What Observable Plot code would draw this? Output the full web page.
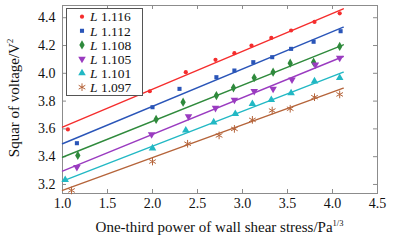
<!DOCTYPE html>
<html><head><meta charset="utf-8">
<script src="https://cdn.jsdelivr.net/npm/d3@7"></script>
<script src="https://cdn.jsdelivr.net/npm/@observablehq/plot@0.6"></script>
<style>
body{margin:0;background:#fff;}
#chart{position:relative;width:394px;height:240px;font-family:"Liberation Serif","Times New Roman",serif;color:#111;}
#chart svg.plot{position:absolute;left:0;top:0;}
.xlab{position:absolute;left:62px;width:315px;top:219px;text-align:center;font-size:15px;line-height:16px;white-space:nowrap;}
.xlab sup{font-size:8.5px;vertical-align:6px;line-height:0;}
.ylab{position:absolute;left:14px;top:98px;transform:translate(-50%,-50%) rotate(-90deg);font-size:15px;line-height:16px;white-space:nowrap;}
.ylab sup{font-size:8.5px;vertical-align:6px;line-height:0;}
#legend{position:absolute;left:66px;top:8px;}
</style></head><body><div id="chart"></div>
<script>
const xTicks = [1.0, 1.5, 2.0, 2.5, 3.0, 3.5, 4.0, 4.5];
const yTicks = [3.2, 3.4, 3.6, 3.8, 4.0, 4.2, 4.4];
const seriesNames = ["1.116", "1.112", "1.108", "1.105", "1.101", "1.097"];
const seriesColors = ["#f52d2d", "#2a55b8", "#2f8a3c", "#9a3bc0", "#22b8c4", "#b5643a"];

const x1116 = [1.06, 1.97, 2.37, 2.70, 2.91, 3.10, 3.32, 3.54, 3.80, 4.08];
const y1116 = [3.596, 3.871, 4.008, 4.097, 4.145, 4.200, 4.255, 4.308, 4.370, 4.432];
const x1112 = [1.16, 2.00, 2.30, 2.71, 2.91, 3.12, 3.33, 3.54, 3.79, 4.09];
const y1112 = [3.497, 3.756, 3.888, 3.972, 4.020, 4.080, 4.116, 4.176, 4.227, 4.303];
const x1108 = [1.17, 2.04, 2.34, 2.71, 2.90, 3.13, 3.34, 3.53, 3.79, 4.08];
const y1108 = [3.409, 3.668, 3.792, 3.840, 3.896, 3.968, 4.008, 4.073, 4.080, 4.193];
const x1105 = [1.16, 1.99, 2.40, 2.70, 2.91, 3.13, 3.34, 3.55, 3.81, 4.08];
const y1105 = [3.325, 3.560, 3.690, 3.750, 3.809, 3.871, 3.888, 3.955, 4.063, 4.111];
const x1101 = [1.03, 2.00, 2.37, 2.68, 2.92, 3.11, 3.32, 3.54, 3.80, 4.08];
const y1101 = [3.234, 3.461, 3.589, 3.648, 3.709, 3.781, 3.809, 3.857, 3.943, 3.968];
const x1097 = [1.10, 2.00, 2.39, 2.74, 2.91, 3.11, 3.33, 3.53, 3.80, 4.08];
const y1097 = [3.157, 3.365, 3.493, 3.553, 3.600, 3.665, 3.732, 3.745, 3.828, 3.848];

const fitX = [1.0, 4.12];
const fitStart = [3.612, 3.493, 3.396, 3.296, 3.224, 3.157];
const fitEnd = [4.464, 4.332, 4.205, 4.121, 4.008, 3.893];

const seriesX = [x1116, x1112, x1108, x1105, x1101, x1097];
const seriesY = [y1116, y1112, y1108, y1105, y1101, y1097];

const triangleDown = {
  draw(ctx, size) {
    const y = -Math.sqrt(size / (Math.sqrt(3) * 3));
    ctx.moveTo(0, -y * 2);
    ctx.lineTo(-Math.sqrt(3) * y, y);
    ctx.lineTo(Math.sqrt(3) * y, y);
    ctx.closePath();
  }
};
const symbols = ["circle", "square", "diamond", triangleDown, "triangle", "asterisk"];
const sizes = [2.1, 2.3, 2.8, 2.8, 2.8, 3.6];

const gray = "#8c8c8c";
const marks = [
  Plot.frame({stroke: gray}),
  Plot.tickX(xTicks, {x: d => d, insetTop: 184, stroke: gray}),
  Plot.tickX(xTicks, {x: d => d, insetBottom: 184, stroke: gray}),
  Plot.tickY(yTicks, {y: d => d, insetRight: 311, stroke: gray}),
  Plot.tickY(yTicks, {y: d => d, insetLeft: 311, stroke: gray}),
  Plot.axisX(xTicks, {tickSize: 0, tickPadding: 5, tickFormat: d3.format(".1f"), label: null}),
  Plot.axisY(yTicks, {tickSize: 0, tickPadding: 7, tickFormat: d3.format(".1f"), label: null})
];
seriesNames.forEach((name, i) => {
  const pts = seriesX[i].map((x, j) => ({x, y: seriesY[i][j]}));
  const fit = fitX.map((x, j) => ({x, y: j === 0 ? fitStart[i] : fitEnd[i]}));
  marks.push(Plot.line(fit, {x: "x", y: "y", stroke: seriesColors[i], strokeWidth: 1.4}));
  const isStroke = symbols[i] === "asterisk";
  marks.push(Plot.dot(pts, {x: "x", y: "y", symbol: symbols[i], r: sizes[i],
    fill: isStroke ? "none" : seriesColors[i], stroke: isStroke ? seriesColors[i] : "none", strokeWidth: 1}));
});

const plot = Plot.plot({
  width: 394, height: 240,
  marginLeft: 62, marginRight: 17, marginTop: 5, marginBottom: 47,
  x: {domain: [1.0, 4.5]},
  y: {domain: [3.135, 4.488]},
  style: {fontFamily: "Liberation Serif, Times New Roman, serif", fontSize: "14px", color: "#111", background: "#fff"},
  marks
});
const chart = document.getElementById("chart");
chart.appendChild(plot);

const xl = document.createElement("div");
xl.className = "xlab";
xl.innerHTML = "One-third power of wall shear stress/Pa<sup>1/3</sup>";
chart.appendChild(xl);
const yl = document.createElement("div");
yl.className = "ylab";
yl.innerHTML = "Squar of voltage/V<sup>2</sup>";
chart.appendChild(yl);

// legend
const lw = 76, lh = 87, rowH = 14.1;
const leg = d3.select(chart).append("svg").attr("id", "legend").attr("width", lw + 2).attr("height", lh + 2);
leg.append("rect").attr("x", 0.5).attr("y", 0.5).attr("width", lw).attr("height", lh)
  .attr("fill", "#fff").attr("stroke", "#555");
const d3sym = {circle: d3.symbolCircle, square: d3.symbolSquare, diamond: d3.symbolDiamond, triangle: d3.symbolTriangle, asterisk: d3.symbolAsterisk};
seriesNames.forEach((name, i) => {
  const cy = 8.7 + i * rowH;
  const s = symbols[i];
  const type = typeof s === "string" ? d3sym[s] : s;
  const isStroke = s === "asterisk";
  leg.append("path").attr("transform", `translate(16,${cy})`)
    .attr("d", d3.symbol(type, Math.PI * sizes[i] * sizes[i])())
    .attr("fill", isStroke ? "none" : seriesColors[i])
    .attr("stroke", isStroke ? seriesColors[i] : "none");
  const t = leg.append("text").attr("x", 24).attr("y", cy).attr("dy", "0.35em")
    .attr("font-family", "Liberation Serif, Times New Roman, serif").attr("font-size", 13.5).attr("fill", "#111");
  t.append("tspan").attr("font-style", "italic").text("L");
  t.append("tspan").text(" " + name);
});
</script></body></html>
